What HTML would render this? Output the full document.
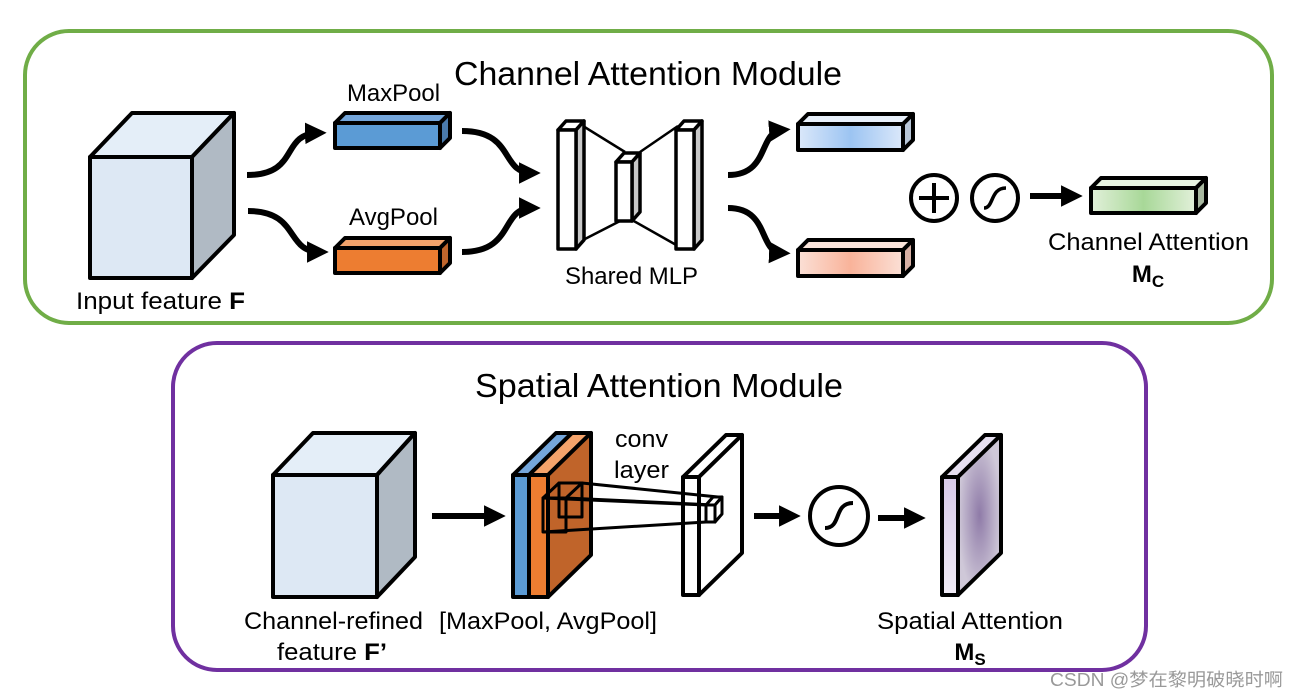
<!DOCTYPE html>
<html><head><meta charset="utf-8"><style>
html,body{margin:0;padding:0;background:#fff;width:1296px;height:698px;overflow:hidden}
text{font-family:"Liberation Sans","Noto Sans CJK SC",sans-serif;fill:#000}
</style></head><body>
<svg width="1296" height="698" viewBox="0 0 1296 698" xmlns="http://www.w3.org/2000/svg">
<defs>
<marker id="ah" viewBox="0 0 10 10" refX="6" refY="5" markerWidth="3.6" markerHeight="3.6" orient="auto" markerUnits="strokeWidth"><path d="M0,0 L10,5 L0,10 z" fill="#000"/></marker>
<linearGradient id="gb" x1="0" x2="1"><stop offset="0" stop-color="#dbe8fa"/><stop offset="0.5" stop-color="#9cc4f2"/><stop offset="1" stop-color="#dbe8fa"/></linearGradient>
<linearGradient id="gr" x1="0" x2="1"><stop offset="0" stop-color="#fbe0d6"/><stop offset="0.5" stop-color="#f9b39a"/><stop offset="1" stop-color="#fbe0d6"/></linearGradient>
<linearGradient id="gg" x1="0" x2="1"><stop offset="0" stop-color="#e2f0da"/><stop offset="0.5" stop-color="#a8d898"/><stop offset="1" stop-color="#e2f0da"/></linearGradient>
<radialGradient id="gp"><stop offset="0" stop-color="#8f7ba8"/><stop offset="1" stop-color="#cfc8d8"/></radialGradient>
<linearGradient id="gpf" x1="0" x2="0" y1="0" y2="1"><stop offset="0" stop-color="#d7c9e8"/><stop offset="1" stop-color="#f1ecf7"/></linearGradient>
</defs>

<rect x="25" y="31" width="1247" height="292" rx="44" fill="none" stroke="#70ad47" stroke-width="4"/>
<rect x="173" y="343" width="973" height="327" rx="44" fill="none" stroke="#7030a0" stroke-width="4"/>

<text x="454" y="85" font-size="33" textLength="388" lengthAdjust="spacingAndGlyphs">Channel Attention Module</text>
<text x="475" y="397" font-size="33" textLength="368" lengthAdjust="spacingAndGlyphs">Spatial Attention Module</text>

<g stroke="#000" stroke-width="4" stroke-linejoin="round">
<polygon points="90,157 132,113 234,113 192,157" fill="#e4eef8"/>
<polygon points="192,157 234,113 234,235 192,278" fill="#b0bac4"/>
<rect x="90" y="157" width="102" height="121" fill="#dde8f4"/>
<polygon points="335,123 345,113 450,113 440,123" fill="#74a6db"/>
<polygon points="440,123 450,113 450,138 440,148" fill="#4a7aab"/>
<rect x="335" y="123" width="105" height="25" fill="#5b9bd5"/>
<polygon points="335,248 345,238 450,238 440,248" fill="#f4a36b"/>
<polygon points="440,248 450,238 450,263 440,273" fill="#c0652c"/>
<rect x="335" y="248" width="105" height="25" fill="#ed7d31"/>
</g>

<g fill="none" stroke="#000" stroke-width="6" marker-end="url(#ah)">
<path d="M247,175 C300,175 280,134 318,133"/>
<path d="M248,211 C300,211 285,252 320,252"/>
<path d="M462,131 C515,131 500,173 532,173"/>
<path d="M462,252 C515,252 500,208 532,208"/>
<path d="M728,175 C770,175 758,132 782,130"/>
<path d="M728,208 C770,208 758,252 782,253"/>
<path d="M1030,196 L1074,196"/>
<path d="M432,516 L497,516"/>
<path d="M754,516 L792,516"/>
<path d="M878,518 L917,518"/>
</g>

<g stroke="#000" stroke-width="2.5" stroke-linejoin="round">
<line x1="583" y1="126" x2="625" y2="152"/>
<line x1="583" y1="240" x2="622" y2="220"/>
<line x1="640" y1="152" x2="678" y2="126"/>
<line x1="632" y1="220" x2="678" y2="246"/>
</g>
<g stroke="#000" stroke-width="3.5" stroke-linejoin="round">
<polygon points="558,130 566,121 584,121 576,130" fill="#fff"/>
<polygon points="576,130 584,121 584,240 576,249" fill="#c8c8c8"/>
<rect x="558" y="130" width="18" height="119" fill="#fff"/>
<polygon points="616,162 624,153 640,153 632,162" fill="#fff"/>
<polygon points="632,162 640,153 640,212 632,221" fill="#c8c8c8"/>
<rect x="616" y="162" width="16" height="59" fill="#fff"/>
<polygon points="676,130 684,121 702,121 694,130" fill="#fff"/>
<polygon points="694,130 702,121 702,240 694,249" fill="#c8c8c8"/>
<rect x="676" y="130" width="18" height="119" fill="#fff"/>
</g>

<g stroke="#000" stroke-width="4" stroke-linejoin="round">
<polygon points="798,124 808,114 913,114 903,124" fill="#e8f0fb"/>
<polygon points="903,124 913,114 913,140 903,150" fill="#b8c6d8"/>
<rect x="798" y="124" width="105" height="26" fill="url(#gb)"/>
<polygon points="798,250 808,240 913,240 903,250" fill="#fbe5dc"/>
<polygon points="903,250 913,240 913,266 903,276" fill="#d8b0a4"/>
<rect x="798" y="250" width="105" height="26" fill="url(#gr)"/>
<polygon points="1091,188 1101,178 1206,178 1196,188" fill="#e8f4e2"/>
<polygon points="1196,188 1206,178 1206,203 1196,213" fill="#a8b8a0"/>
<rect x="1091" y="188" width="105" height="25" fill="url(#gg)"/>
</g>

<g fill="none" stroke="#000" stroke-width="4">
<circle cx="934" cy="198" r="23"/>
<line x1="919" y1="198" x2="949" y2="198"/><line x1="934" y1="183" x2="934" y2="213"/>
<circle cx="995" cy="198" r="23"/>
<path d="M984,208 C994,208 990,188 1006,188" stroke-width="3.5"/>
<circle cx="839" cy="516" r="29"/>
<path d="M825,528 C842,528 833,503 853,503" stroke-width="4"/>
</g>

<g stroke="#000" stroke-width="4" stroke-linejoin="round">
<polygon points="273,475 313,433 415,433 377,475" fill="#e4eef8"/>
<polygon points="377,475 415,433 415,557 377,597" fill="#b0bac4"/>
<rect x="273" y="475" width="104" height="122" fill="#dde8f4"/>

<polygon points="513,475 556,433 572,433 529,475" fill="#74a6db"/>
<polygon points="529,475 572,433 591,433 548,475" fill="#f4a36b"/>
<polygon points="548,475 591,433 591,555 548,597" fill="#c0642a"/>
<rect x="513" y="475" width="16" height="122" fill="#5b9bd5"/>
<rect x="529" y="475" width="19" height="122" fill="#ed7d31"/>

<polygon points="683,477 726,435 742,435 699,477" fill="#fff"/>
<polygon points="699,477 742,435 742,553 699,595" fill="#fff"/>
<rect x="683" y="477" width="16" height="118" fill="#fff"/>

<polygon points="942,477 985,435 1001,435 958,477" fill="#e6dff0"/>
<polygon points="958,477 1001,435 1001,553 958,595" fill="url(#gp)"/>
<rect x="942" y="477" width="16" height="118" fill="url(#gpf)"/>
</g>
<g fill="none" stroke="#000" stroke-width="3" stroke-linejoin="round">
<polygon points="559,483 582,483 582,517 559,517"/>
<polygon points="543,498 559,483 582,483 566,498"/>
<rect x="543" y="498" width="23" height="34"/>
<line x1="566" y1="498" x2="566" y2="532"/>
<line x1="582" y1="483" x2="718" y2="497"/>
<line x1="543" y1="498" x2="706" y2="505"/>
<line x1="543" y1="532" x2="706" y2="522"/>
<line x1="566" y1="498" x2="714" y2="505"/>
<rect x="706" y="505" width="9" height="17" fill="#fff"/>
<polygon points="706,505 713,497 722,497 715,505" fill="#fff"/>
<polygon points="715,505 722,497 722,514 715,522" fill="#fff"/>
</g>

<g font-size="24" lengthAdjust="spacingAndGlyphs">
<text x="76" y="309" textLength="169" lengthAdjust="spacingAndGlyphs">Input feature <tspan font-weight="bold">F</tspan></text>
<text x="347" y="101" textLength="93" lengthAdjust="spacingAndGlyphs">MaxPool</text>
<text x="349" y="225" textLength="89" lengthAdjust="spacingAndGlyphs">AvgPool</text>
<text x="565" y="284" textLength="133" lengthAdjust="spacingAndGlyphs">Shared MLP</text>
<text x="1048" y="250" textLength="201" lengthAdjust="spacingAndGlyphs">Channel Attention</text>
<text x="1148" y="282" text-anchor="middle" font-weight="bold">M<tspan font-size="17" dy="5">C</tspan></text>
<text x="615" y="447" textLength="53" lengthAdjust="spacingAndGlyphs">conv</text>
<text x="614" y="478" textLength="55" lengthAdjust="spacingAndGlyphs">layer</text>
<text x="244" y="629" textLength="179" lengthAdjust="spacingAndGlyphs">Channel-refined</text>
<text x="277" y="660" textLength="110" lengthAdjust="spacingAndGlyphs">feature <tspan font-weight="bold">F’</tspan></text>
<text x="439" y="629" textLength="218" lengthAdjust="spacingAndGlyphs">[MaxPool, AvgPool]</text>
<text x="877" y="629" textLength="186" lengthAdjust="spacingAndGlyphs">Spatial Attention</text>
<text x="970" y="660" text-anchor="middle" font-weight="bold">M<tspan font-size="17" dy="5">S</tspan></text>
</g>
<text x="1050" y="686" font-size="18" textLength="233" lengthAdjust="spacingAndGlyphs" style="fill:#999">CSDN @梦在黎明破晓时啊</text>
</svg>
</body></html>
